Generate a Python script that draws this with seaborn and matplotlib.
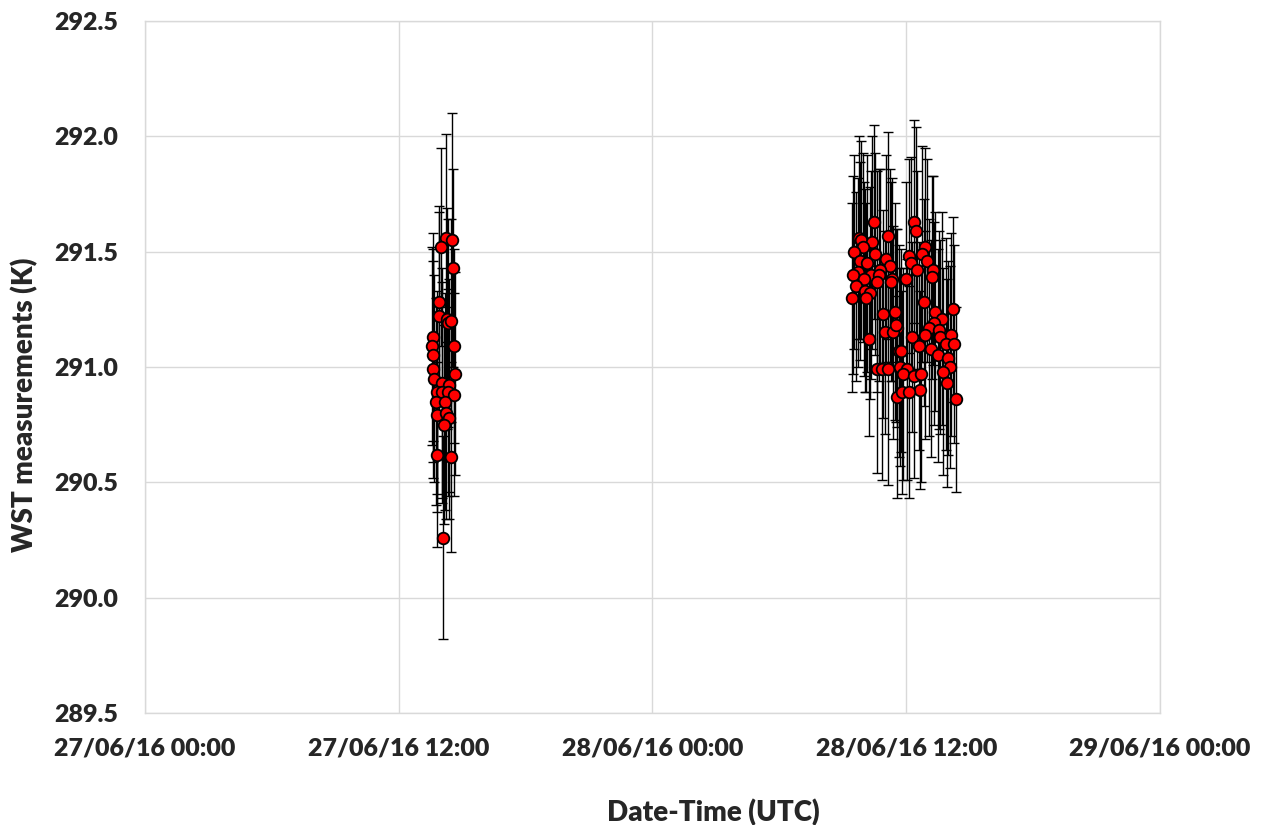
import pandas as pd
import numpy as np
import seaborn as sns
import matplotlib.pyplot as plt
import matplotlib.dates as mdates
from matplotlib.ticker import FormatStrFormatter

# first pass, 27/06/16 afternoon
times_1 = ["14:14", "14:31", "14:00", "14:34", "13:54", "13:54", "14:17", "14:20",
           "14:28", "13:37", "13:34", "13:37", "14:37", "13:37", "14:40", "13:40",
           "14:02", "14:22", "13:49", "14:02", "14:20", "14:37", "13:46", "14:11",
           "13:49", "14:14", "14:22", "14:08", "13:49", "14:28", "14:05"]
wst_1 = [291.56, 291.55, 291.52, 291.43, 291.28, 291.22, 291.21, 291.19,
         291.20, 291.13, 291.09, 291.05, 291.09, 290.99, 290.97, 290.95,
         290.93, 290.92, 290.89, 290.89, 290.89, 290.88, 290.85, 290.85,
         290.79, 290.80, 290.78, 290.75, 290.62, 290.61, 290.26]
err_1 = [0.45, 0.55, 0.43, 0.43, 0.42, 0.45, 0.48, 0.45,
         0.44, 0.45, 0.43, 0.46, 0.42, 0.47, 0.44, 0.45,
         0.50, 0.46, 0.44, 0.48, 0.45, 0.44, 0.45, 0.47,
         0.42, 0.46, 0.44, 0.43, 0.40, 0.41, 0.44]

# second pass, 28/06/16 morning / midday
times_2 = ["10:29", "11:09", "09:46", "09:53", "10:24", "09:56", "09:32", "10:32",
           "11:02", "09:48", "10:10", "11:13", "10:45", "09:44", "09:28", "10:21",
           "10:43", "11:21", "10:01", "10:38", "11:16", "09:37", "10:03", "10:17",
           "10:07", "09:25", "10:55", "11:28", "11:33", "10:59", "11:23", "10:15",
           "10:36", "10:50", "11:07", "11:40", "11:34",
           "12:22", "12:27", "12:53", "12:44", "12:09", "12:58", "12:14", "12:31",
           "13:15", "13:13", "12:00", "12:50", "14:13", "13:23", "13:41", "11:31",
           "13:19", "13:06", "13:32", "12:52", "13:37", "14:07", "12:17", "13:52",
           "14:16", "12:36", "13:09", "11:46", "13:31", "13:58", "14:05", "13:44",
           "11:42", "12:02", "11:51", "12:22", "12:42", "13:55", "12:38", "11:47",
           "12:07", "14:21"]
wst_2 = [291.63, 291.57, 291.56, 291.55, 291.54, 291.52, 291.50, 291.49,
         291.47, 291.46, 291.45, 291.44, 291.42, 291.41, 291.40, 291.40,
         291.40, 291.38, 291.38, 291.37, 291.37, 291.35, 291.33, 291.32,
         291.30, 291.30, 291.23, 291.24, 291.17, 291.15, 291.15, 291.12,
         290.99, 290.99, 290.99, 291.07, 290.87,
         291.63, 291.59, 291.52, 291.49, 291.48, 291.46, 291.45, 291.42,
         291.42, 291.39, 291.38, 291.28, 291.25, 291.24, 291.21, 291.18,
         291.19, 291.17, 291.16, 291.14, 291.13, 291.14, 291.13, 291.10,
         291.10, 291.09, 291.08, 291.07, 291.05, 291.04, 291.00, 290.98,
         291.00, 290.99, 290.97, 290.96, 290.97, 290.93, 290.90, 290.89,
         290.89, 290.86]
err_2 = [0.42, 0.45, 0.44, 0.43, 0.46, 0.41, 0.42, 0.44,
         0.45, 0.43, 0.47, 0.42, 0.44, 0.41, 0.43, 0.45,
         0.46, 0.44, 0.42, 0.48, 0.43, 0.41, 0.44, 0.46,
         0.41, 0.41, 0.45, 0.47, 0.43, 0.44, 0.46, 0.42,
         0.45, 0.48, 0.50, 0.46, 0.44,
         0.44, 0.45, 0.43, 0.47, 0.42, 0.44, 0.46, 0.43,
         0.41, 0.44, 0.42, 0.45, 0.40, 0.43, 0.46, 0.42,
         0.44, 0.47, 0.43, 0.45, 0.42, 0.44, 0.41, 0.46,
         0.43, 0.45, 0.47, 0.44, 0.46, 0.42, 0.44, 0.45,
         0.43, 0.48, 0.46, 0.44, 0.47, 0.45, 0.43, 0.44,
         0.46, 0.40]

df = pd.DataFrame({
    "time": pd.to_datetime(["2016-06-27 " + t for t in times_1] +
                           ["2016-06-28 " + t for t in times_2]),
    "wst": wst_1 + wst_2,
    "err": err_1 + err_2,
})

sns.set_style("whitegrid")
plt.rcParams["font.family"] = ["Lato", "DejaVu Sans"]

fig = plt.figure(figsize=(12.63, 8.25), dpi=100)
ax = fig.add_axes([0.1148, 0.1358, 0.8036, 0.8387])

# error bars first, then the red markers on top
ax.errorbar(df["time"], df["wst"], yerr=df["err"], fmt="none",
            ecolor="black", elinewidth=1.0, capsize=3.5, capthick=1.0, zorder=2)
sns.scatterplot(data=df, x="time", y="wst", ax=ax, color="red",
                edgecolor="black", linewidth=1.3, s=70, zorder=3, legend=False)

ax.set_xlim(pd.Timestamp("2016-06-27 00:00"), pd.Timestamp("2016-06-29 00:00"))
ax.xaxis.set_major_locator(mdates.HourLocator(byhour=[0, 12]))
ax.xaxis.set_major_formatter(mdates.DateFormatter("%d/%m/%y %H:%M"))
ax.set_ylim(289.5, 292.5)
ax.set_yticks(np.arange(289.5, 292.51, 0.5))
ax.yaxis.set_major_formatter(FormatStrFormatter("%.1f"))

ax.grid(True, color="#d9d9d9", linewidth=1.0)
for s in ax.spines.values():
    s.set_color("#d9d9d9")
    s.set_linewidth(1.0)

ax.tick_params(axis="both", length=0, labelsize=18)
ax.tick_params(axis="x", pad=18)
ax.tick_params(axis="y", pad=19)
for lab in ax.get_xticklabels() + ax.get_yticklabels():
    lab.set_fontweight("heavy")

ax.set_xlabel("Date-Time (UTC)", fontsize=20, fontweight="heavy")
ax.set_ylabel("WST measurements (K)", fontsize=20, fontweight="heavy")
ax.xaxis.set_label_coords(0.56, -0.124)
ax.yaxis.set_label_coords(-0.105, 0.445)

fig.savefig("out.png", dpi=100)
